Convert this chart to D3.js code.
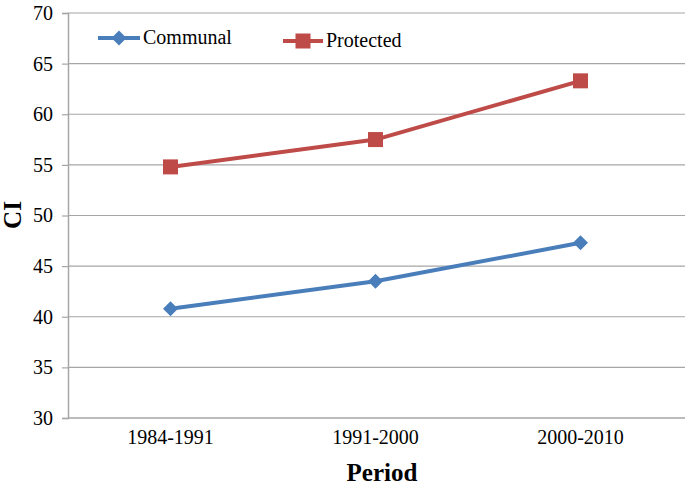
<!DOCTYPE html>
<html><head><meta charset="utf-8">
<script src="https://d3js.org/d3.v7.min.js"></script>
<style>body{margin:0;background:#fff}svg{display:block}text{font-family:"Liberation Serif","Times New Roman",serif}</style>
</head><body><svg id="c" width="685" height="489"></svg>
<script>
const categories = ["1984-1991","1991-2000","2000-2010"];
const communal = [40.8, 43.5, 47.3];
const protectedVals = [54.8, 57.5, 63.3];
const yTicks = [30,35,40,45,50,55,60,65,70];

const svg = d3.select("#c");
const pL = 68, pR = 683, pT = 13, pB = 418;
const x = d3.scaleBand().domain(categories).range([pL, pR]);
const y = d3.scaleLinear().domain([30,70]).range([pB, pT]);
const SERIF = "Liberation Serif, Times New Roman, serif";

// gridlines
svg.append("g").selectAll("line").data(yTicks.slice(1)).join("line")
  .attr("x1", pL).attr("x2", 685).attr("y1", d=>y(d)).attr("y2", d=>y(d))
  .attr("stroke", "#a6a6a6").attr("stroke-width", 1.2);

const ya = svg.append("g").attr("transform", `translate(${pL},0)`)
  .call(d3.axisLeft(y).tickValues(yTicks).tickSize(6).tickPadding(9))
  .attr("font-family", SERIF).attr("font-size", 20);
ya.select(".domain").attr("stroke","#a6a6a6").attr("stroke-width",1.5);
ya.selectAll(".tick line").attr("stroke","#a6a6a6").attr("stroke-width",1.2);
ya.selectAll("text").attr("fill","#000");

const xa = svg.append("g").attr("transform", `translate(0,${pB})`)
  .call(d3.axisBottom(x).tickSize(0).tickPadding(12))
  .attr("font-family", SERIF).attr("font-size", 20);
xa.select(".domain").attr("d", `M${pL},0H685`).attr("stroke","#a6a6a6").attr("stroke-width",1.5);
xa.selectAll("text").attr("fill","#000");

const cx = d => x(d) + x.bandwidth()/2;
const line = d3.line().x((d,i)=>cx(categories[i])).y(d=>y(d));

const series = [
  {name:"Communal", vals: communal, color:"#4a7ebb", shape:"diamond"},
  {name:"Protected", vals: protectedVals, color:"#be4b48", shape:"square"}
];

function marker(g, shape, color, px, py){
  if(shape==="diamond"){
    g.append("path").attr("d", `M${px},${py-7.5}L${px+7.5},${py}L${px},${py+7.5}L${px-7.5},${py}Z`).attr("fill", color);
  } else {
    g.append("rect").attr("x", px-7.5).attr("y", py-7.5).attr("width",15).attr("height",15).attr("fill", color);
  }
}

series.forEach(s=>{
  svg.append("path").datum(s.vals).attr("d", line).attr("fill","none")
    .attr("stroke", s.color).attr("stroke-width", 4).attr("stroke-linejoin","round");
  const g = svg.append("g");
  s.vals.forEach((v,i)=>marker(g, s.shape, s.color, cx(categories[i]), y(v)));
});

// legend
const leg = [{s:series[0], x1:98, y:38, tx:143},{s:series[1], x1:283, y:41, tx:326}];
leg.forEach(l=>{
  const g = svg.append("g");
  g.append("line").attr("x1", l.x1).attr("x2", l.tx-3).attr("y1", l.y).attr("y2", l.y)
    .attr("stroke", l.s.color).attr("stroke-width", 4);
  marker(g, l.s.shape, l.s.color, (l.x1+l.tx-3)/2, l.y);
  g.append("text").attr("x", l.tx).attr("y", l.y+6).attr("font-size", 20).text(l.s.name);
});

svg.append("text").attr("x", 382).attr("y", 481).attr("text-anchor","middle")
  .attr("font-size", 25).attr("font-weight","bold").text("Period");
svg.append("text").attr("transform","translate(21,215) rotate(-90)").attr("text-anchor","middle")
  .attr("font-size", 25).attr("font-weight","bold").text("CI");
</script></body></html>
